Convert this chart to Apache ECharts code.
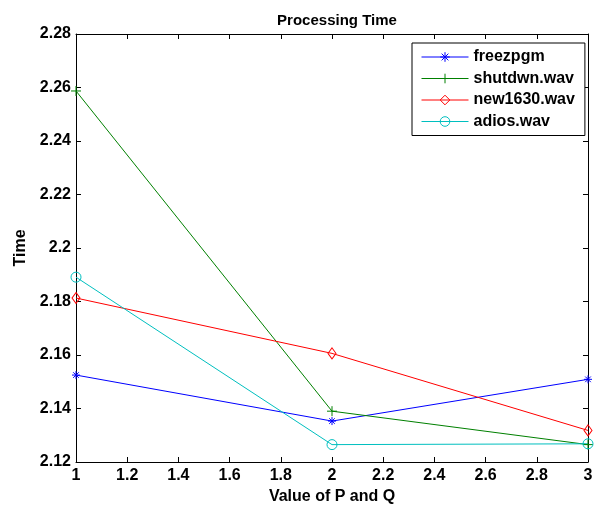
<!DOCTYPE html>
<html>
<head>
<meta charset="utf-8">
<script src="https://cdn.jsdelivr.net/npm/echarts@6/dist/echarts.min.js"></script>
<style>
html,body{margin:0;padding:0;background:#fff;}
#chart{width:600px;height:510px;}
</style>
</head>
<body>
<div id="chart"></div>
<script>
const xValues = [1, 2, 3];
const seriesNames = ['freezpgm', 'shutdwn.wav', 'new1630.wav', 'adios.wav'];
const freezpgm = [2.1525, 2.1353, 2.1509];
const shutdwn = [2.2587, 2.1390, 2.1265];
const new1630 = [2.1813, 2.1606, 2.1318];
const adios = [2.1891, 2.1265, 2.1268];
const yTicks = { min: 2.12, max: 2.28, interval: 0.02 };
const xTicks = { min: 1, max: 3, interval: 0.2 };
const titleText = 'Processing Time';
const xName = 'Value of P and Q';
const yName = 'Time';

const colors = ['#0000ff', '#008000', '#ff0000', '#00bfbf'];
const FONT = '"Liberation Sans", Arial, sans-serif';

const symbols = [
  { symbol: 'path://M0,5L10,5M5,0L5,10M1.5,1.5L8.5,8.5M1.5,8.5L8.5,1.5', size: 8, fill: null },
  { symbol: 'path://M0,5L10,5M5,0L5,10', size: 10, fill: null },
  { symbol: 'path://M5,0L10,7L5,14L0,7Z', size: [8, 11], fill: 'rgba(0,0,0,0)' },
  { symbol: 'circle', size: 10, fill: 'rgba(0,0,0,0)' }
];
const allValues = [freezpgm, shutdwn, new1630, adios];

const series = seriesNames.map((name, i) => ({
  name: name,
  type: 'line',
  xAxisIndex: 0,
  yAxisIndex: 0,
  data: xValues.map((x, j) => [x, allValues[i][j]]),
  color: colors[i],
  symbol: symbols[i].symbol,
  symbolSize: symbols[i].size,
  showAllSymbol: true,
  lineStyle: { color: colors[i], width: 1 },
  itemStyle: {
    color: symbols[i].fill || colors[i],
    borderColor: colors[i],
    borderWidth: 1
  },
  emphasis: { disabled: true }
}));

const axisCommon = {
  axisLine: { show: true, lineStyle: { color: '#000', width: 1 } },
  axisTick: { show: true, inside: true, length: 5, lineStyle: { color: '#000' } },
  splitLine: { show: false },
  axisLabel: { color: '#000', fontFamily: FONT, fontWeight: 'bold', fontSize: 16 }
};

const chart = echarts.init(document.getElementById('chart'), null, { renderer: 'canvas' });
chart.setOption({
  animation: false,
  backgroundColor: '#fff',
  title: {
    text: titleText,
    left: 332,
    top: 8,
    textAlign: 'center',
    textStyle: { color: '#000', fontFamily: FONT, fontWeight: 'bold', fontSize: 15 }
  },
  grid: { left: 76, right: 12, top: 34, bottom: 43 },
  legend: {
    data: seriesNames,
    orient: 'vertical',
    left: 412,
    top: 43,
    width: 170,
    padding: [6, 10, 6, 9],
    itemWidth: 47,
    itemHeight: 12,
    itemGap: 5.5,
    borderColor: '#000',
    borderWidth: 1,
    backgroundColor: '#fff',
    lineStyle: { width: 1 },
    itemStyle: { borderWidth: 1 },
    textStyle: { color: '#000', fontFamily: FONT, fontWeight: 'bold', fontSize: 16 }
  },
  xAxis: [
    Object.assign({}, axisCommon, {
      type: 'value', position: 'bottom',
      min: xTicks.min, max: xTicks.max, interval: xTicks.interval,
      name: xName, nameLocation: 'middle', nameGap: 27,
      nameTextStyle: { color: '#000', fontFamily: FONT, fontWeight: 'bold', fontSize: 16 },
      axisLabel: Object.assign({}, axisCommon.axisLabel, { margin: 6 })
    }),
    Object.assign({}, axisCommon, {
      type: 'value', position: 'top', gridIndex: 0,
      min: xTicks.min, max: xTicks.max, interval: xTicks.interval,
      axisLabel: { show: false }
    })
  ],
  yAxis: [
    Object.assign({}, axisCommon, {
      type: 'value', position: 'left',
      min: yTicks.min, max: yTicks.max, interval: yTicks.interval,
      name: yName, nameLocation: 'middle', nameGap: 42,
      nameTextStyle: { color: '#000', fontFamily: FONT, fontWeight: 'bold', fontSize: 16 },
      axisLabel: Object.assign({}, axisCommon.axisLabel, { margin: 5 })
    }),
    Object.assign({}, axisCommon, {
      type: 'value', position: 'right', gridIndex: 0,
      min: yTicks.min, max: yTicks.max, interval: yTicks.interval,
      axisLabel: { show: false }
    })
  ],
  series: series
});
</script>
</body>
</html>
